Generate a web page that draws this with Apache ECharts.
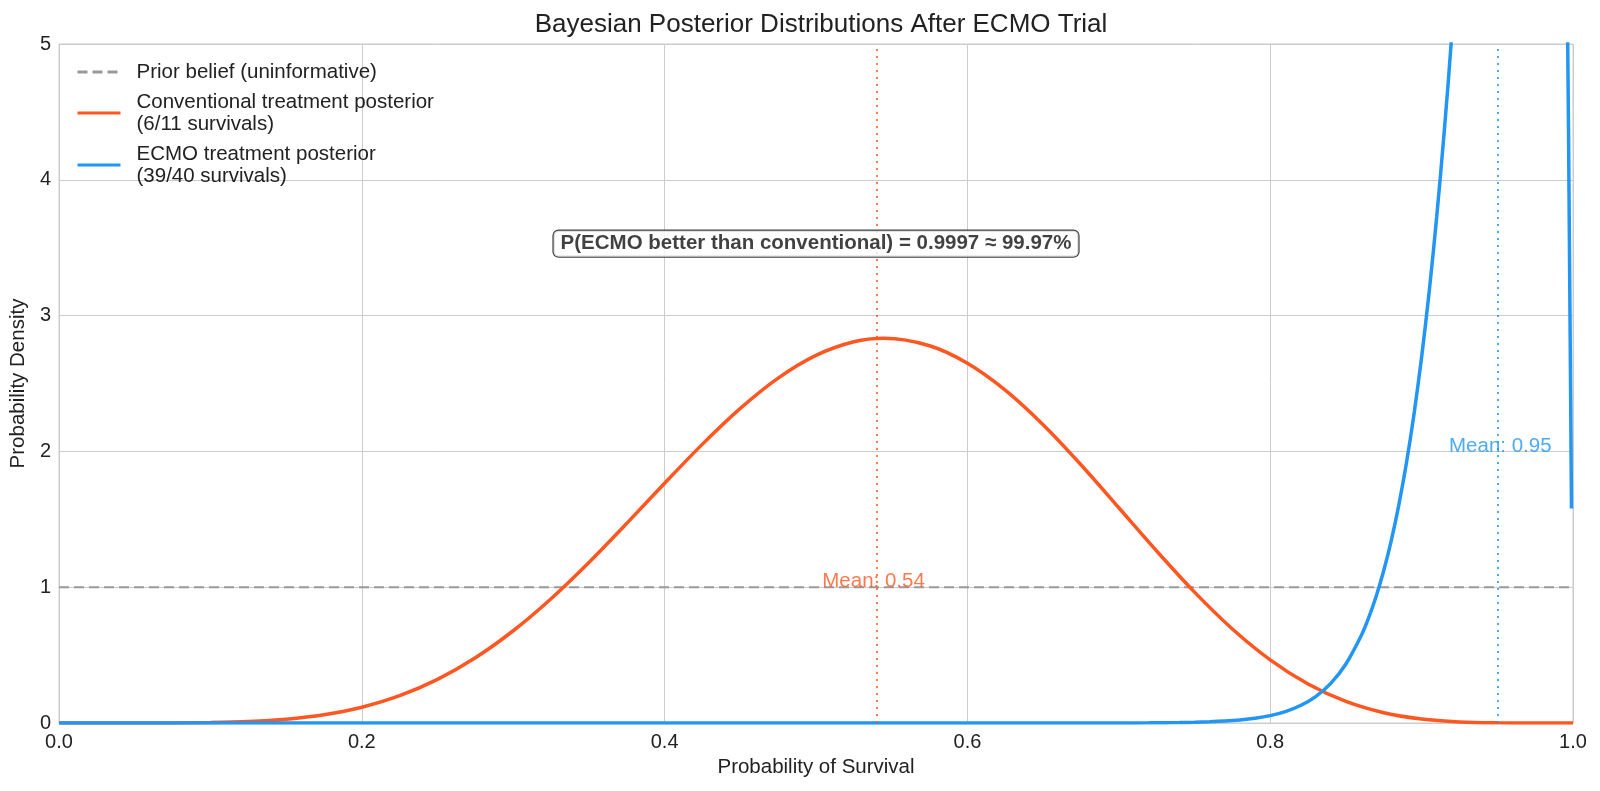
<!DOCTYPE html>
<html>
<head>
<meta charset="utf-8">
<script src="https://cdn.jsdelivr.net/npm/echarts@6/dist/echarts.min.js"></script>
<style>
  html, body { margin: 0; padding: 0; background: #fff; }
  #chart { width: 1600px; height: 791px; }
</style>
</head>
<body>
<div id="chart"></div>
<script>
// values
var convX = [0, 0.025, 0.05, 0.075, 0.1, 0.125, 0.15, 0.175, 0.2, 0.225, 0.25, 0.275, 0.3, 0.325, 0.35, 0.375,
    0.4, 0.425, 0.45, 0.475, 0.5, 0.525, 0.545, 0.575, 0.6, 0.625, 0.65, 0.675, 0.7, 0.725, 0.75, 0.775,
    0.8, 0.825, 0.85, 0.875, 0.9, 0.925, 0.95, 0.975, 1];
var convY = [0, 0, 0.0001, 0.0007, 0.0033, 0.0109, 0.028, 0.0609, 0.1163, 0.2011, 0.3212, 0.4803, 0.6793, 0.9154, 1.1824, 1.4703,
    1.7658, 2.0536, 2.317, 2.5398, 2.707, 2.807, 2.833, 2.778, 2.649, 2.4506, 2.196, 1.9014, 1.585, 1.2663, 0.9636, 0.6927,
    0.4651, 0.2869, 0.1587, 0.0759, 0.0295, 0.0082, 0.0013, 0, 0];

var ecmoX = [0, 0.1, 0.2, 0.3, 0.4, 0.5, 0.6, 0.65, 0.7, 0.72, 0.74, 0.75, 0.76, 0.77, 0.78, 0.79, 0.8, 0.81, 0.82, 0.83, 0.84, 0.85, 0.86, 0.865,
    0.87, 0.875, 0.88, 0.885, 0.89, 0.895, 0.9, 0.905, 0.91, 0.915, 0.92, 0.93, 0.95, 0.97, 0.98, 0.99, 0.996, 0.998, 0.999];
var ecmoY = [0, 0, 0, 0, 0, 0, 0, 0, 0.0004, 0.0013, 0.0034, 0.0055, 0.0088, 0.0141, 0.0223, 0.035, 0.0545, 0.084, 0.1285, 0.1946, 0.2922, 0.4348, 0.6404, 0.7742,
    0.9333, 1.1224, 1.3452, 1.6086, 1.9162, 2.2762, 2.6934, 3.175, 3.73, 4.3616, 5.078, 6.771, 11.09, 15.0, 14.92, 11.08, 5.61, 3.03, 1.58];

var priorX = [0, 1];
var priorY = [1, 1];

var seriesNames = ['Prior belief (uninformative)', 'Conventional treatment posterior\n(6/11 survivals)', 'ECMO treatment posterior\n(39/40 survivals)'];
var means = [0.538, 0.952];
var meanLabelY = [1, 2];
var meanLabels = ['Mean: 0.54', 'Mean: 0.95'];
var noteText = 'P(ECMO better than conventional) = 0.9997 \u2248 99.97%';
var notePos = [0.5, 3.53];

var ORANGE = '#FF5722';
var BLUE = '#2196F3';
var FONT = '"Liberation Sans", Arial, sans-serif';

function pairs(xs, ys) {
    return xs.map(function (x, i) { return [x, ys[i]]; });
}

var chart = echarts.init(document.getElementById('chart'));

var option = {
    animation: false,
    textStyle: { fontFamily: FONT },
    title: {
        text: 'Bayesian Posterior Distributions After ECMO Trial',
        left: 816,
        textAlign: 'center',
        top: 7,
        textStyle: { fontSize: 26, fontWeight: 'normal', color: '#222', fontFamily: FONT }
    },
    grid: {
        left: 59, right: 27, top: 44, bottom: 68,
        show: true, borderColor: '#cccccc', borderWidth: 1
    },
    legend: {
        orient: 'vertical',
        left: 71,
        top: 56,
        itemWidth: 43,
        itemHeight: 12,
        itemGap: 8,
        data: seriesNames,
        itemStyle: { opacity: 0 },
        lineStyle: { width: 3 },
        textStyle: { fontSize: 20.5, color: '#222', lineHeight: 22, padding: [0, 0, 0, 11], fontFamily: FONT }
    },
    xAxis: {
        type: 'value',
        min: 0, max: 1, interval: 0.2,
        name: 'Probability of Survival',
        nameLocation: 'middle',
        nameGap: 32,
        nameTextStyle: { fontSize: 20.5, color: '#222' },
        axisLine: { show: false },
        axisTick: { show: false },
        axisLabel: {
            fontSize: 20, color: '#222', margin: 9,
            formatter: function (v) { return v.toFixed(1); }
        },
        splitLine: { lineStyle: { color: '#cccccc', width: 1 } }
    },
    yAxis: {
        type: 'value',
        min: 0, max: 5, interval: 1,
        name: 'Probability Density',
        nameLocation: 'middle',
        nameGap: 25,
        nameTextStyle: { fontSize: 20.5, color: '#222' },
        axisLine: { show: false },
        axisTick: { show: false },
        axisLabel: { fontSize: 20, color: '#222', margin: 8 },
        splitLine: { lineStyle: { color: '#cccccc', width: 1 } }
    },
    series: [
        {
            name: seriesNames[0],
            type: 'line',
            data: pairs(priorX, priorY),
            symbol: 'none',
            color: '#999999',
            lineStyle: { color: '#999999', width: 2, type: [10, 5] },
            z: 2
        },
        {
            name: seriesNames[1],
            type: 'line',
            data: pairs(convX, convY),
            symbol: 'none',
            smooth: 0.3,
            color: ORANGE,
            lineStyle: { color: ORANGE, width: 3.5 },
            z: 3,
            markLine: {
                silent: true,
                symbol: 'none',
                label: { show: false },
                lineStyle: { color: ORANGE, opacity: 0.8, width: 2, type: [2, 5] },
                data: [{ xAxis: means[0] }]
            }
        },
        {
            name: seriesNames[2],
            type: 'line',
            data: pairs(ecmoX, ecmoY),
            symbol: 'none',
            smooth: 0.3,
            color: BLUE,
            lineStyle: { color: BLUE, width: 3.5 },
            z: 4,
            markLine: {
                silent: true,
                symbol: 'none',
                label: { show: false },
                lineStyle: { color: BLUE, opacity: 0.8, width: 2, type: [2, 5] },
                data: [{ xAxis: means[1] }]
            }
        },
        {
            name: 'meanLabels',
            type: 'scatter',
            symbolSize: 0,
            silent: true,
            z: 6,
            data: [
                { value: [means[0], meanLabelY[0]], label: { color: ORANGE, formatter: meanLabels[0] } },
                { value: [means[1], meanLabelY[1]], label: { color: BLUE, formatter: meanLabels[1] } }
            ],
            label: { show: true, position: 'top', distance: -5, fontSize: 20.5 }
        },
        {
            name: 'note',
            type: 'scatter',
            symbolSize: 0,
            silent: true,
            z: 7,
            data: [notePos],
            label: {
                show: true,
                position: 'inside',
                formatter: noteText,
                fontSize: 20.5,
                fontWeight: 'bold',
                color: '#111',
                backgroundColor: '#fff',
                borderColor: '#111',
                borderWidth: 1.2,
                borderRadius: 5,
                padding: [3, 7, 2, 7]
            }
        }
    ]
};

chart.setOption(option);
</script>
</body>
</html>
